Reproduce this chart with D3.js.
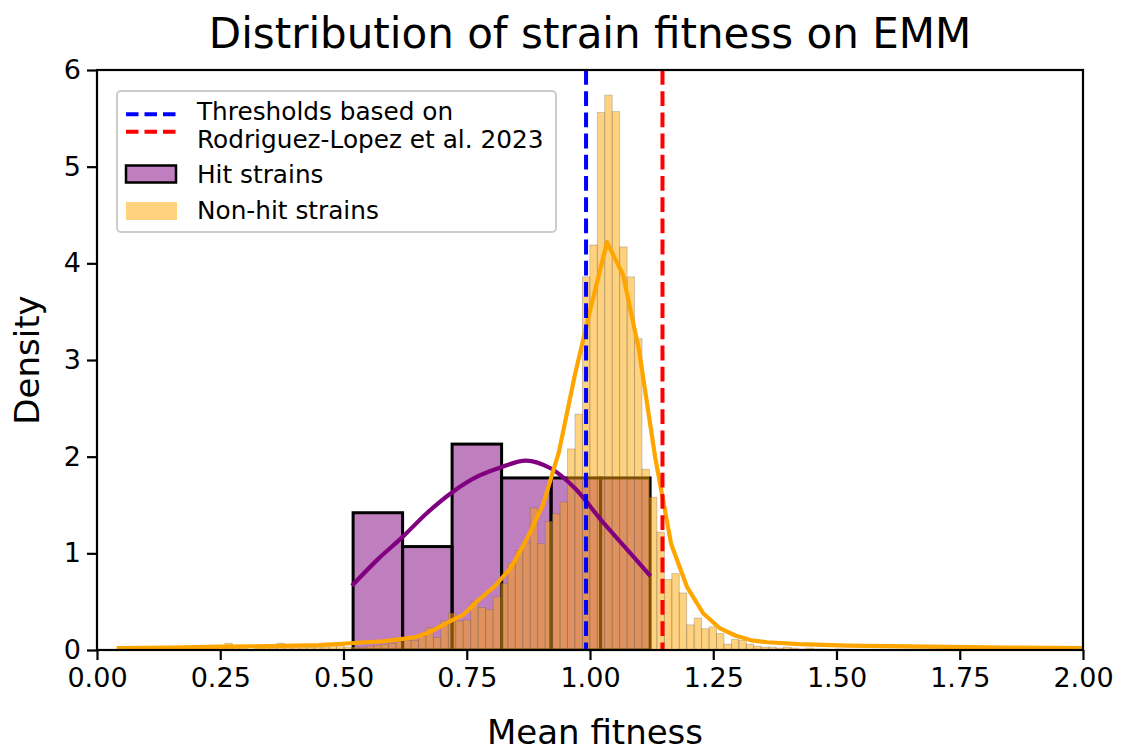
<!DOCTYPE html>
<html>
<head>
<meta charset="utf-8">
<script src="https://cdn.jsdelivr.net/npm/d3@7"></script>
<style>
  body { margin: 0; background: #fff; }
  svg { font-family: "DejaVu Sans", sans-serif; }
</style>
</head>
<body>
<svg></svg>
<script>
// hit strains histogram (density), 6 bins
const hitStart = 0.5195, hitWidth = 0.1004;
const hitDensity = [1.42, 1.07, 2.13, 1.78, 1.78, 1.78];

// non-hit strains histogram (density), narrow bins
const nonHitStart = 0.0478, nonHitWidth = 0.01511;
const nonHitDensity = [
  0.03, 0, 0, 0, 0.03, 0, 0, 0.03, 0, 0, 0.03, 0, 0.03, 0.03, 0.07, 0.03,
  0.03, 0, 0.03, 0.03, 0.03, 0.07, 0.03, 0.03, 0.03, 0.03, 0.03, 0.03, 0.05, 0.05,
  0.03, 0.03, 0.03, 0.04, 0.05, 0.06, 0.07, 0.09, 0.10, 0.10, 0.14, 0.23, 0.13,
  0.30, 0.38, 0.30, 0.31, 0.50, 0.44, 0.42, 0.55, 0.69, 0.90, 1.03, 1.11, 1.47,
  1.10, 1.33, 1.41, 1.53, 2.08, 2.44, 3.86, 4.19, 5.56, 5.74, 5.57, 4.17, 3.86,
  3.22, 1.87, 1.58, 1.22, 0.73, 0.79, 0.59, 0.26, 0.33, 0.22, 0.24, 0.17, 0.06,
  0.11, 0.10, 0.06, 0.04, 0.03, 0.03, 0.02, 0.03, 0.02, 0.01, 0.02, 0.01, 0.01,
  0, 0.01
];

// kde curves
const hitKdeX = [0.52, 0.57, 0.62, 0.67, 0.72, 0.77, 0.82, 0.87, 0.92, 0.97, 1.02, 1.07, 1.12];
const hitKdeY = [0.68, 0.94, 1.17, 1.42, 1.63, 1.79, 1.89, 1.96, 1.88, 1.67, 1.36, 1.07, 0.78];

const nonHitKdeX = [0.04, 0.15, 0.25, 0.35, 0.45, 0.5145, 0.547, 0.5795, 0.612, 0.6445, 0.677,
  0.7095, 0.742, 0.7745, 0.807, 0.8395, 0.872, 0.9045, 0.937, 0.9695, 1.002, 1.0345, 1.067,
  1.0995, 1.132, 1.1645, 1.197, 1.2295, 1.262, 1.2945, 1.327, 1.3595, 1.4245, 1.522, 1.6845,
  1.847, 2.01];
const nonHitKdeY = [0.02, 0.025, 0.035, 0.04, 0.05, 0.07, 0.08, 0.09, 0.11, 0.13, 0.19,
  0.28, 0.36, 0.52, 0.66, 0.85, 1.15, 1.5, 2.05, 2.85, 3.55, 4.22, 3.88,
  3.1, 2.0, 1.1, 0.65, 0.38, 0.23, 0.15, 0.10, 0.08, 0.06, 0.045, 0.035,
  0.025, 0.02];

// threshold lines
const thresholds = [0.992, 1.147];
const thresholdColors = ["blue", "red"];

const xTicks = [0, 0.25, 0.5, 0.75, 1.0, 1.25, 1.5, 1.75, 2.0];
const yTicks = [0, 1, 2, 3, 4, 5, 6];

const margin = {top: 70, right: 44, bottom: 101, left: 97},
    graphWidth = 1127 - margin.left - margin.right,
    graphHeight = 751 - margin.top - margin.bottom;

const svgRoot = d3.select("svg")
    .attr("width", 1127)
    .attr("height", 751);

const svg = svgRoot.append("g")
    .attr("transform", `translate(${margin.left},${margin.top})`);

const x = d3.scaleLinear().domain([0, 2]).range([0, graphWidth]);
const y = d3.scaleLinear().domain([0, 6]).range([graphHeight, 0]);

svg.append("clipPath").attr("id", "plotclip")
  .append("rect").attr("width", graphWidth).attr("height", graphHeight);

const plot = svg.append("g").attr("clip-path", "url(#plotclip)");

// hit bars
plot.selectAll(".hit")
    .data(hitDensity)
    .enter().append("rect")
    .attr("class", "hit")
    .attr("x", (d, i) => x(hitStart + i * hitWidth))
    .attr("width", (d, i) => x(hitStart + (i + 1) * hitWidth) - x(hitStart + i * hitWidth))
    .attr("y", d => y(d))
    .attr("height", d => y(0) - y(d))
    .attr("fill", "purple")
    .attr("fill-opacity", 0.5)
    .attr("stroke", "black")
    .attr("stroke-width", 3);

// non-hit bars
plot.selectAll(".nonhit")
    .data(nonHitDensity)
    .enter().append("rect")
    .attr("class", "nonhit")
    .attr("x", (d, i) => x(nonHitStart + i * nonHitWidth))
    .attr("width", (d, i) => x(nonHitStart + (i + 1) * nonHitWidth) - x(nonHitStart + i * nonHitWidth))
    .attr("y", d => y(d))
    .attr("height", d => y(0) - y(d))
    .attr("fill", "orange")
    .attr("fill-opacity", 0.5)
    .attr("stroke", "#555")
    .attr("stroke-opacity", 0.3)
    .attr("stroke-width", 0.9);

// kde lines
const hitLine = d3.line()
    .x(d => x(d[0])).y(d => y(d[1]))
    .curve(d3.curveCatmullRom);
plot.append("path")
    .datum(hitKdeX.map((v, i) => [v, hitKdeY[i]]))
    .attr("d", hitLine)
    .attr("fill", "none")
    .attr("stroke", "purple")
    .attr("stroke-width", 4.2)
    .attr("stroke-linecap", "square")
    .attr("stroke-linejoin", "round");

const nonHitLine = d3.line()
    .x(d => x(d[0])).y(d => y(d[1]));
plot.append("path")
    .datum(nonHitKdeX.map((v, i) => [v, nonHitKdeY[i]]))
    .attr("d", nonHitLine)
    .attr("fill", "none")
    .attr("stroke", "orange")
    .attr("stroke-width", 4.2)
    .attr("stroke-linejoin", "round");

// threshold lines
plot.selectAll(".thr")
    .data(thresholds)
    .enter().append("line")
    .attr("class", "thr")
    .attr("x1", d => x(d)).attr("x2", d => x(d))
    .attr("y1", 0).attr("y2", graphHeight)
    .attr("stroke", (d, i) => thresholdColors[i])
    .attr("stroke-width", 4)
    .attr("stroke-dasharray", "14.8,6.4");

// axes
const xAxis = d3.axisBottom(x).tickValues(xTicks).tickFormat(d3.format(".2f"))
    .tickSize(10).tickPadding(8);
const yAxis = d3.axisLeft(y).tickValues(yTicks).tickFormat(d3.format("d"))
    .tickSize(10).tickPadding(6);

const gx = svg.append("g")
    .attr("transform", `translate(0,${graphHeight})`)
    .call(xAxis);
const gy = svg.append("g")
    .call(yAxis);

[gx, gy].forEach(g => {
  g.select(".domain").remove();
  g.selectAll(".tick line").attr("stroke", "black").attr("stroke-width", 2.2);
  g.selectAll(".tick text").attr("fill", "black")
    .style("font-size", "27px").style("font-family", "DejaVu Sans, sans-serif");
});

svg.append("rect")
    .attr("width", graphWidth).attr("height", graphHeight)
    .attr("fill", "none").attr("stroke", "black").attr("stroke-width", 2.2);

// title and labels
svgRoot.append("text")
    .attr("x", margin.left + graphWidth / 2).attr("y", 48)
    .attr("text-anchor", "middle")
    .style("font-size", "42px")
    .text("Distribution of strain fitness on EMM");

svgRoot.append("text")
    .attr("x", margin.left + graphWidth / 2 + 5).attr("y", 744)
    .attr("text-anchor", "middle")
    .style("font-size", "34px")
    .text("Mean fitness");

svgRoot.append("text")
    .attr("transform", `translate(39,${margin.top + graphHeight / 2}) rotate(-90)`)
    .attr("text-anchor", "middle")
    .style("font-size", "34px")
    .text("Density");

// legend
const legend = svgRoot.append("g");
legend.append("rect")
    .attr("x", 117).attr("y", 91).attr("width", 439).attr("height", 141)
    .attr("rx", 4)
    .attr("fill", "white").attr("fill-opacity", 0.8)
    .attr("stroke", "#cccccc").attr("stroke-width", 2);

thresholdColors.forEach((c, i) => {
  legend.append("line")
    .attr("x1", 126).attr("x2", 176)
    .attr("y1", 114.3 + i * 17.4).attr("y2", 114.3 + i * 17.4)
    .attr("stroke", c).attr("stroke-width", 4)
    .attr("stroke-dasharray", "12.5,6");
});
legend.append("rect")
    .attr("x", 126).attr("y", 165.5).attr("width", 50).attr("height", 17)
    .attr("fill", "purple").attr("fill-opacity", 0.5)
    .attr("stroke", "black").attr("stroke-width", 2.5);
legend.append("rect")
    .attr("x", 126).attr("y", 202).attr("width", 51).attr("height", 18)
    .attr("fill", "orange").attr("fill-opacity", 0.5);

const legendText = ["Thresholds based on", "Rodriguez-Lopez et al. 2023", "Hit strains", "Non-hit strains"];
const legendBase = [120, 147.7, 182.7, 219.3];
legend.selectAll(".lt")
    .data(legendText)
    .enter().append("text")
    .attr("class", "lt")
    .attr("x", 197)
    .attr("y", (d, i) => legendBase[i])
    .style("font-size", "24.75px")
    .text(d => d);
</script>
</body>
</html>
